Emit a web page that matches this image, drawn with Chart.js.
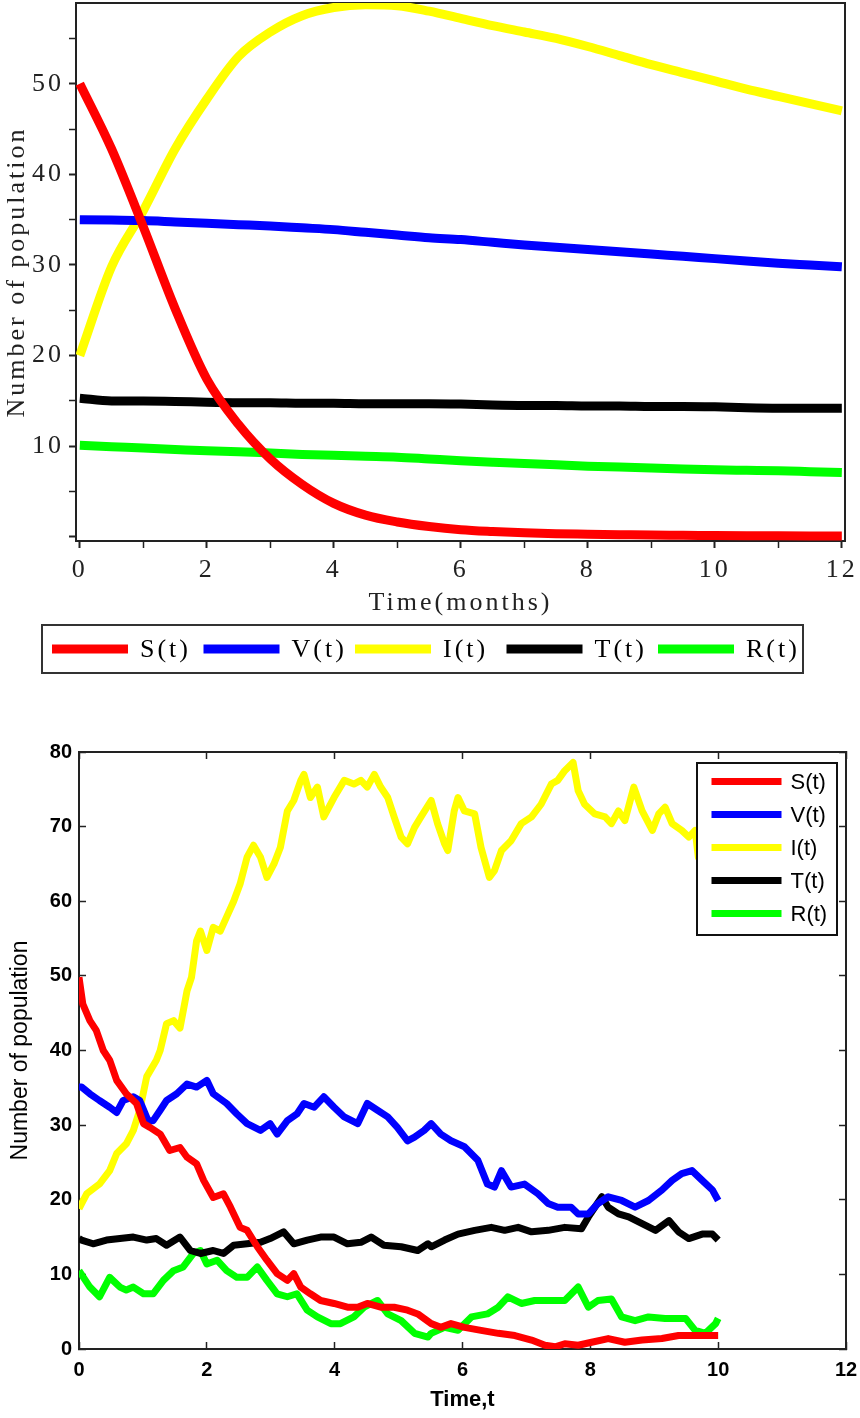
<!DOCTYPE html>
<html>
<head>
<meta charset="utf-8">
<script src="https://cdn.jsdelivr.net/npm/chart.js@4.4.0/dist/chart.umd.min.js"></script>
<style>
  html, body { margin: 0; padding: 0; background: #fff; }
  canvas { display: block; }
</style>
</head>
<body>
<canvas id="detChart" width="860" height="690"></canvas>
<canvas id="stochChart" width="860" height="728"></canvas>
<script>
// deterministic model, sampled every half month
const detTime = [0, 0.5, 1, 1.5, 2, 2.5, 3, 3.5, 4, 4.5, 5, 5.5, 6, 6.5, 7, 7.5, 8, 8.5, 9, 9.5, 10, 10.5, 11, 11.5, 12];
const detS = [50, 42.8, 34.2, 25.2, 17.4, 12.4, 8.6, 5.8, 3.7, 2.4, 1.65, 1.15, 0.8, 0.6, 0.45, 0.35, 0.3, 0.25, 0.2, 0.18, 0.15, 0.13, 0.12, 0.11, 0.1];
const detV = [35.0, 34.95, 34.9, 34.75, 34.6, 34.45, 34.3, 34.1, 33.9, 33.6, 33.3, 33.0, 32.8, 32.5, 32.2, 31.95, 31.7, 31.45, 31.2, 30.95, 30.7, 30.45, 30.2, 30.0, 29.8];
const detI = [20, 29.8, 36.0, 42.8, 48.3, 53.0, 55.7, 57.5, 58.4, 58.7, 58.6, 58.0, 57.2, 56.4, 55.7, 55.0, 54.1, 53.1, 52.1, 51.2, 50.3, 49.4, 48.6, 47.8, 47.0];
const detT = [15.3, 15.0, 15.0, 14.95, 14.85, 14.8, 14.8, 14.75, 14.75, 14.7, 14.7, 14.7, 14.65, 14.55, 14.5, 14.5, 14.45, 14.45, 14.4, 14.4, 14.35, 14.25, 14.2, 14.2, 14.2];
const detR = [10.1, 9.95, 9.8, 9.65, 9.5, 9.4, 9.25, 9.1, 9.0, 8.9, 8.8, 8.6, 8.4, 8.25, 8.1, 7.95, 7.8, 7.7, 7.6, 7.5, 7.4, 7.35, 7.3, 7.2, 7.1];

// stochastic sample path, [t, value]
const stoS = [[0,49.8],[0.06,46.2],[0.17,44],[0.27,42.7],[0.38,40],[0.48,38.7],[0.59,36],[0.74,34.2],[0.9,32.9],[1.01,30.2],[1.11,29.7],[1.27,28.8],[1.42,26.6],[1.58,27],[1.69,25.7],[1.84,24.8],[1.95,22.6],[2.1,20.3],[2.26,20.8],[2.37,19],[2.52,16.3],[2.63,15.9],[2.79,13.7],[2.94,11.9],[3.1,10.1],[3.26,9.2],[3.36,10.1],[3.47,8.3],[3.62,7.4],[3.78,6.5],[3.99,6.1],[4.2,5.6],[4.36,5.6],[4.51,6.1],[4.72,5.6],[4.93,5.6],[5.14,5.2],[5.3,4.7],[5.51,3.4],[5.66,2.9],[5.82,3.4],[6.03,2.9],[6.29,2.5],[6.56,2.1],[6.82,1.8],[7.08,1.2],[7.29,0.5],[7.45,0.3],[7.6,0.7],[7.81,0.5],[8.02,0.9],[8.28,1.4],[8.54,0.9],[8.81,1.2],[9.12,1.4],[9.38,1.8],[9.64,1.8],[10,1.8]];
const stoV = [[0,35.1],[0.04,35.1],[0.17,34.2],[0.32,33.3],[0.48,32.4],[0.59,31.7],[0.69,33.3],[0.85,33.8],[0.95,33.3],[1.08,30.6],[1.16,30.6],[1.27,32],[1.37,33.3],[1.53,34.2],[1.69,35.5],[1.84,35.1],[2.0,36],[2.1,34.2],[2.31,32.9],[2.47,31.5],[2.63,30.2],[2.84,29.3],[2.99,30.2],[3.1,28.8],[3.26,30.6],[3.41,31.5],[3.52,32.9],[3.68,32.4],[3.83,33.8],[3.99,32.4],[4.15,31.1],[4.36,30.2],[4.51,32.9],[4.67,32],[4.83,31.1],[4.98,29.7],[5.14,27.9],[5.25,28.4],[5.4,29.3],[5.51,30.2],[5.66,28.8],[5.82,27.9],[6.03,27.1],[6.24,25.3],[6.39,22.1],[6.5,21.7],[6.61,23.9],[6.76,21.7],[6.97,22.1],[7.18,20.8],[7.34,19.5],[7.49,19],[7.7,19],[7.81,18.1],[7.97,18.1],[8.12,19.5],[8.28,20.4],[8.49,19.9],[8.7,19],[8.91,19.9],[9.12,21.3],[9.28,22.6],[9.43,23.5],[9.59,23.9],[9.75,22.6],[9.91,21.3],[10,19.9]];
const stoI = [[0,18.8],[0.12,20.8],[0.32,22.1],[0.48,23.9],[0.59,26.2],[0.74,27.5],[0.85,29.3],[0.95,32],[1.06,36.5],[1.21,38.7],[1.27,40],[1.37,43.6],[1.48,44],[1.58,43],[1.69,48],[1.76,49.8],[1.84,54.7],[1.9,56],[2.0,53.4],[2.1,56.5],[2.21,56],[2.31,57.9],[2.42,60],[2.52,62.3],[2.63,65.9],[2.73,67.5],[2.84,65.9],[2.94,63.2],[3.05,65],[3.15,67.2],[3.26,72.1],[3.36,73.5],[3.47,76.2],[3.52,77],[3.62,73.9],[3.73,75.3],[3.83,71.3],[3.99,73.9],[4.15,76.2],[4.3,75.7],[4.41,76.2],[4.51,75.3],[4.62,77],[4.72,75.3],[4.83,73.9],[4.93,71.3],[5.04,68.6],[5.14,67.7],[5.25,69.9],[5.35,71.3],[5.51,73.5],[5.61,70.4],[5.72,67.7],[5.77,66.8],[5.87,72.1],[5.93,73.9],[6.03,72.1],[6.19,71.7],[6.29,67.2],[6.42,63.2],[6.5,64.1],[6.61,66.8],[6.76,68.1],[6.92,70.4],[7.08,71.3],[7.23,73],[7.39,75.7],[7.49,76.2],[7.6,77.5],[7.73,78.6],[7.81,74.8],[7.91,73],[8.07,71.7],[8.23,71.3],[8.33,70.4],[8.44,72.1],[8.54,70.8],[8.68,75.3],[8.81,72.1],[8.97,69.5],[9.07,71.7],[9.17,72.6],[9.28,70.4],[9.43,69.5],[9.54,68.6],[9.64,69.5],[9.69,65.9],[9.8,67],[10,67]];
const stoT = [[0,14.8],[0.04,14.6],[0.22,14.1],[0.43,14.6],[0.64,14.8],[0.85,15],[1.06,14.6],[1.21,14.8],[1.37,13.9],[1.58,15],[1.74,13.2],[1.9,12.8],[2.1,13.2],[2.26,12.8],[2.42,13.9],[2.63,14.1],[2.84,14.3],[2.99,14.8],[3.2,15.7],[3.36,14.1],[3.57,14.6],[3.78,15],[3.99,15],[4.2,14.1],[4.41,14.3],[4.57,15],[4.77,13.9],[5.04,13.7],[5.3,13.2],[5.46,14.1],[5.51,13.7],[5.72,14.6],[5.93,15.4],[6.19,15.9],[6.45,16.3],[6.66,15.9],[6.87,16.3],[7.08,15.7],[7.34,15.9],[7.6,16.3],[7.86,16.1],[7.97,17.7],[8.07,19],[8.18,20.4],[8.28,19],[8.44,18.1],[8.6,17.7],[8.81,16.8],[9.02,15.9],[9.23,17.2],[9.38,15.7],[9.54,14.8],[9.75,15.4],[9.91,15.4],[10,14.6]];
const stoR = [[0,10.5],[0.17,8.3],[0.32,7],[0.48,9.6],[0.64,8.3],[0.74,7.9],[0.85,8.3],[1.01,7.4],[1.16,7.4],[1.32,9.2],[1.48,10.5],[1.63,11],[1.79,12.8],[1.9,13.2],[2.0,11.4],[2.16,11.9],[2.31,10.5],[2.47,9.6],[2.63,9.6],[2.79,11],[2.94,9.2],[3.1,7.4],[3.26,7],[3.41,7.4],[3.57,5.2],[3.73,4.3],[3.94,3.4],[4.09,3.4],[4.3,4.3],[4.46,5.6],[4.67,6.5],[4.83,4.7],[5.04,3.8],[5.25,2.1],[5.46,1.6],[5.51,2.1],[5.72,2.9],[5.93,2.5],[6.14,4.3],[6.39,4.7],[6.56,5.6],[6.71,7],[6.92,6.1],[7.13,6.5],[7.34,6.5],[7.6,6.5],[7.81,8.3],[7.97,5.6],[8.12,6.5],[8.33,6.7],[8.49,4.3],[8.7,3.8],[8.91,4.3],[9.17,4.1],[9.49,4.1],[9.64,2.5],[9.8,2.1],[9.96,3.4],[10,4.1]];

const seriesNames = ["S(t)", "V(t)", "I(t)", "T(t)", "R(t)"];
const seriesColors = ["#ff0000", "#0000ff", "#ffff00", "#000000", "#00ff00"];

const serif = "'Liberation Serif', 'Times New Roman', serif";
const sans = "'Liberation Sans', Arial, sans-serif";

// legend drawn inside a framed box, either in one row or one column
const boxLegend = {
  id: "boxLegend",
  afterDraw(chart, args, o) {
    const ctx = chart.ctx;
    ctx.save();
    ctx.fillStyle = "#fff";
    ctx.fillRect(o.x, o.y, o.w, o.h);
    ctx.strokeStyle = o.borderColor;
    ctx.lineWidth = o.borderWidth;
    ctx.strokeRect(o.x, o.y, o.w, o.h);
    ctx.font = o.font;
    ctx.textBaseline = "middle";
    chart.data.datasets.forEach((ds, i) => {
      const x = o.x + o.first + (o.row ? i * o.pitch : 0);
      const y = o.row ? o.y + o.h / 2 : o.y + o.firstRow + i * o.pitch;
      ctx.strokeStyle = ds.borderColor;
      ctx.lineWidth = o.lineWidth;
      ctx.lineCap = "butt";
      ctx.beginPath();
      ctx.moveTo(x, y);
      ctx.lineTo(x + o.lineLen, y);
      ctx.stroke();
      ctx.fillStyle = "#000";
      ctx.fillText(ds.label, x + o.lineLen + o.gap, y + o.textShift);
    });
    ctx.restore();
  },
};

// wide-set serif text of the upper figure
const spacing = {
  id: "spacing",
  beforeDraw(chart, args, o) {
    chart.ctx.letterSpacing = o.value;
  },
};

// fixed scale size, no extra room for overhanging labels
function fixSize(size) {
  return (scale) => {
    if (scale.isHorizontal()) scale.height = size;
    else scale.width = size;
    scale.paddingTop = 0;
    scale.paddingBottom = 0;
    scale.paddingLeft = 0;
    scale.paddingRight = 0;
  };
}

function frameAxis(position, min, max, tickLength, stepSize) {
  return {
    type: "linear",
    position,
    min,
    max,
    ticks: { display: false, stepSize, includeBounds: false },
    grid: {
      drawOnChartArea: false,
      drawTicks: tickLength !== 0,
      tickLength,
      tickColor: "#222",
      tickWidth: 1.5,
    },
    border: { color: "#222", width: 2 },
    afterFit: fixSize(0),
  };
}

function detDatasets() {
  const values = [detS, detV, detI, detT, detR];
  return values.map((vals, i) => ({
    label: seriesNames[i],
    data: detTime.map((t, j) => ({ x: t, y: vals[j] })),
    borderColor: seriesColors[i],
    backgroundColor: seriesColors[i],
    borderWidth: 9,
    pointRadius: 0,
    cubicInterpolationMode: "monotone",
    fill: false,
  }));
}

function stoDatasets() {
  const values = [stoS, stoV, stoI, stoT, stoR];
  return values.map((pairs, i) => ({
    label: seriesNames[i],
    data: pairs.map((p) => ({ x: p[0], y: p[1] })),
    borderColor: seriesColors[i],
    backgroundColor: seriesColors[i],
    borderWidth: 7,
    borderJoinStyle: "round",
    pointRadius: 0,
    tension: 0,
    fill: false,
  }));
}

new Chart(document.getElementById("detChart"), {
  type: "line",
  data: { datasets: detDatasets() },
  plugins: [spacing, boxLegend],
  options: {
    responsive: false,
    animation: false,
    events: [],
    layout: { padding: { top: 3, right: 15, bottom: 67, left: 0 } },
    plugins: {
      legend: { display: false },
      tooltip: { enabled: false },
      spacing: { value: "3px" },
      boxLegend: {
        x: 42, y: 625, w: 761, h: 48,
        row: true, first: 10, pitch: 151.5,
        lineLen: 76, lineWidth: 9, gap: 12, textShift: 1,
        font: "26px " + serif,
        borderColor: "#333", borderWidth: 2,
      },
    },
    scales: {
      x: {
        type: "linear",
        min: -0.06,
        max: 12.05,
        ticks: {
          stepSize: 1,
          includeBounds: false,
          autoSkip: false,
          maxRotation: 0,
          padding: 7,
          color: "#222",
          font: { family: serif, size: 26 },
          callback: (v) => (v % 2 === 0 ? v : ""),
        },
        grid: {
          drawOnChartArea: false,
          tickLength: 7,
          tickColor: "#222",
          tickWidth: (c) => (c.tick && c.tick.value % 2 === 0 ? 2 : 1.5),
        },
        border: { color: "#222", width: 2 },
        title: {
          display: true,
          text: "Time(months)",
          color: "#222",
          font: { family: serif, size: 26 },
          padding: { top: 0, bottom: 4 },
        },
        afterFit: fixSize(82),
      },
      y: {
        type: "linear",
        min: -0.45,
        max: 58.9,
        ticks: {
          stepSize: 5,
          includeBounds: false,
          autoSkip: false,
          padding: 5,
          color: "#222",
          font: { family: serif, size: 26 },
          callback: (v) => (v > 0 && v % 10 === 0 ? v : ""),
        },
        grid: {
          drawOnChartArea: false,
          tickLength: 7,
          tickColor: "#222",
          tickWidth: (c) => (c.tick && c.tick.value % 10 === 0 ? 2 : 1.5),
        },
        border: { color: "#222", width: 2 },
        title: {
          display: true,
          text: "Number of population",
          color: "#222",
          font: { family: serif, size: 26 },
          padding: { top: 2, bottom: 0 },
        },
        afterFit: fixSize(76),
      },
      x2: frameAxis("top", -0.06, 12.05, 0, 1),
      y2: frameAxis("right", -0.45, 58.9, 0, 5),
    },
  },
});

new Chart(document.getElementById("stochChart"), {
  type: "line",
  data: { datasets: stoDatasets() },
  plugins: [boxLegend],
  options: {
    responsive: false,
    animation: false,
    events: [],
    layout: { padding: { top: 62, right: 14, bottom: 0, left: 0 } },
    plugins: {
      legend: { display: false },
      tooltip: { enabled: false },
      boxLegend: {
        x: 697, y: 73, w: 140, h: 172,
        row: false, first: 14.5, firstRow: 18.5, pitch: 33,
        lineLen: 70, lineWidth: 7, gap: 9, textShift: 1,
        font: "22px " + sans,
        borderColor: "#111", borderWidth: 2,
      },
    },
    scales: {
      x: {
        type: "linear",
        min: 0,
        max: 12,
        ticks: {
          stepSize: 2,
          autoSkip: false,
          maxRotation: 0,
          padding: 16,
          color: "#000",
          font: { family: sans, size: 20, weight: "bold" },
        },
        grid: { drawOnChartArea: false, tickLength: -7, tickColor: "#222", tickWidth: 1.5 },
        border: { color: "#222", width: 2 },
        title: {
          display: true,
          text: "Time,t",
          color: "#000",
          font: { family: sans, size: 22, weight: "bold" },
          padding: { top: 0, bottom: 5 },
        },
        afterFit: fixSize(69),
      },
      y: {
        type: "linear",
        min: 0,
        max: 80,
        ticks: {
          stepSize: 10,
          autoSkip: false,
          padding: 14,
          color: "#000",
          font: { family: sans, size: 20, weight: "bold" },
        },
        grid: { drawOnChartArea: false, tickLength: -7, tickColor: "#222", tickWidth: 1.5 },
        border: { color: "#222", width: 2 },
        title: {
          display: true,
          text: "Number of population",
          color: "#000",
          font: { family: sans, size: 23 },
          padding: { top: 7, bottom: 0 },
        },
        afterFit: fixSize(79),
      },
      x2: frameAxis("top", 0, 12, -7, 2),
      y2: frameAxis("right", 0, 80, -7, 10),
    },
  },
});
</script>
</body>
</html>
